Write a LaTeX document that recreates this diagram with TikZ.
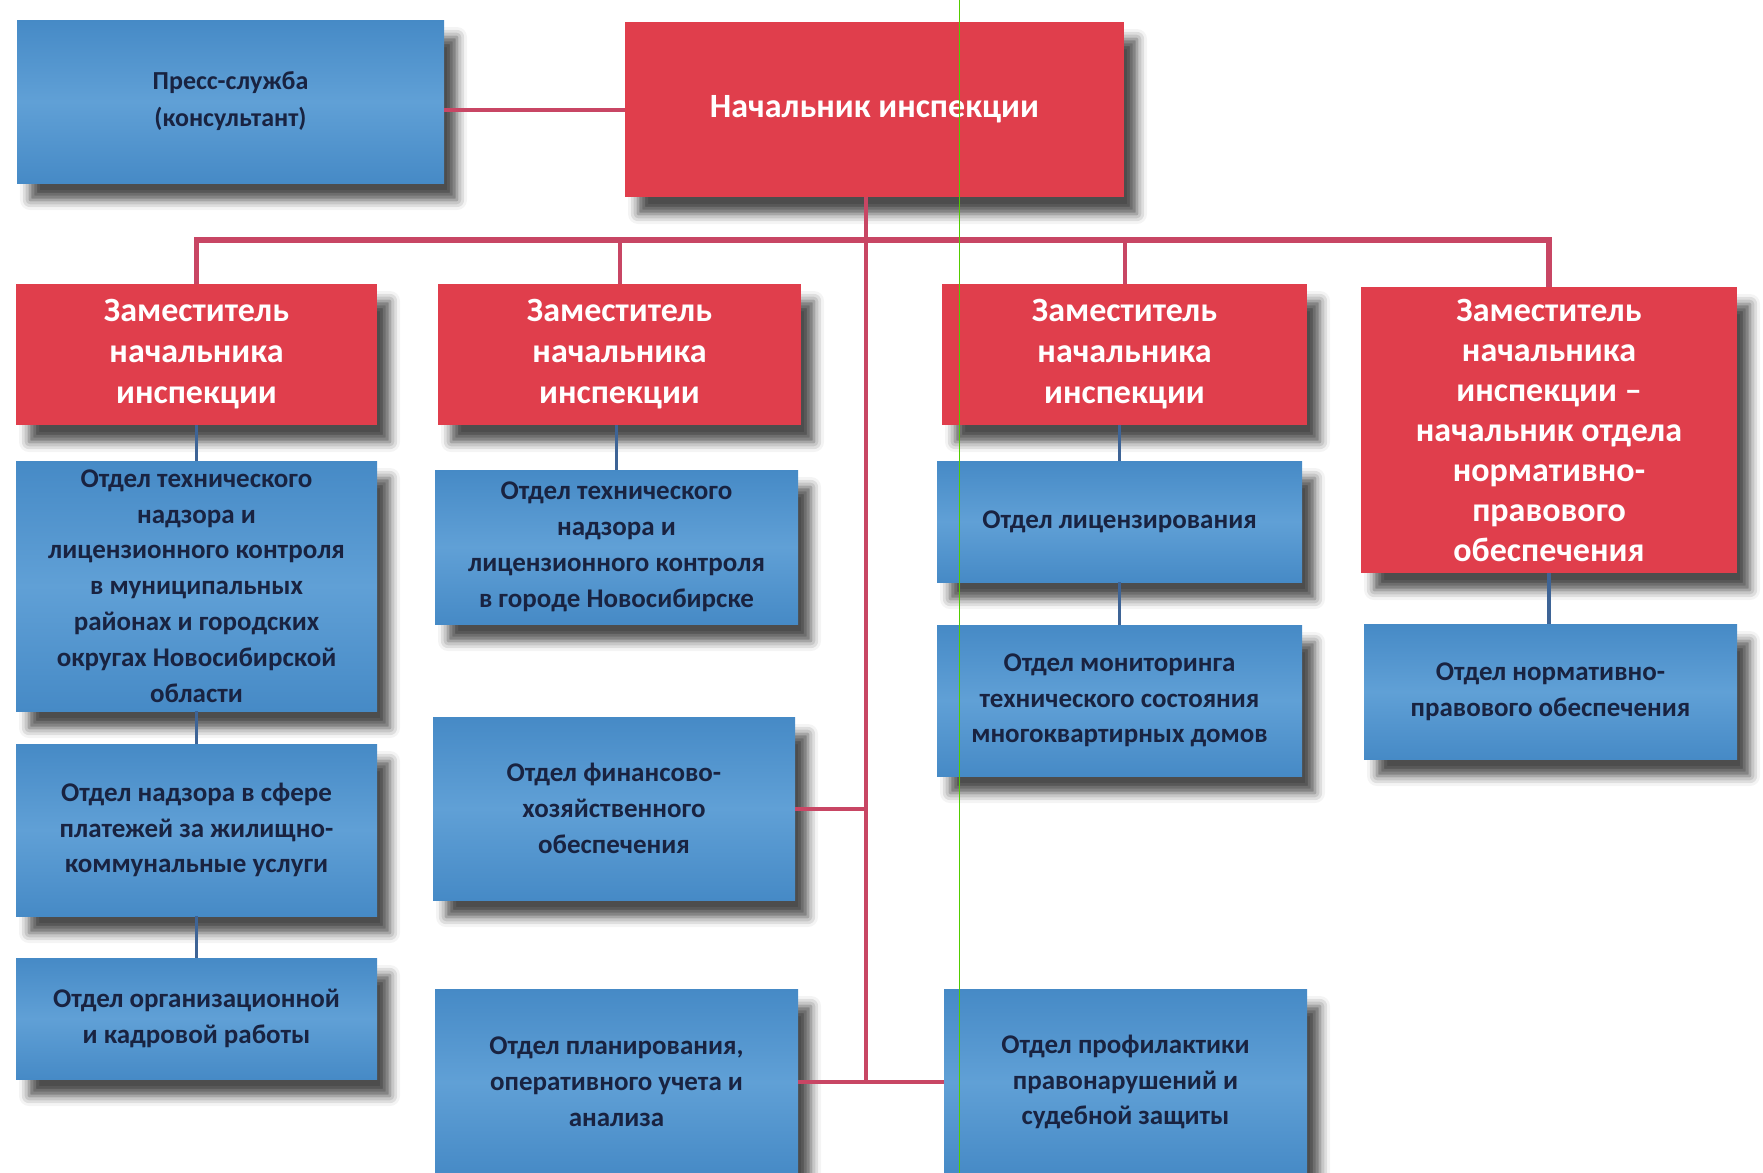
\documentclass[tikz,border=0pt]{standalone}
\usepackage{fontspec}
\setmainfont{Carlito}
\usetikzlibrary{shadows.blur}
\definecolor{chiefred}{RGB}{224,62,76}
\definecolor{deptblue}{RGB}{70,138,198}
\definecolor{deptlight}{RGB}{96,160,214}
\definecolor{linkred}{RGB}{200,70,100}
\definecolor{linkblue}{RGB}{62,100,150}
\definecolor{deptink}{RGB}{25,35,65}
\begin{document}
\begin{tikzpicture}[x=0.5pt, y=-0.5pt,
  box/.style={rectangle, inner sep=0pt, align=center,
    blur shadow={shadow xshift=6.5pt, shadow yshift=-8.5pt, shadow blur radius=5pt, shadow opacity=70}},
  redbox/.style={box, fill=chiefred, text=white, font=\bfseries\fontsize{17}{20.5}\selectfont},
  bluebox/.style={box, top color=deptblue, bottom color=deptblue, middle color=deptlight, text=deptink, font=\bfseries\fontsize{13.5}{17.9}\selectfont},
  redline/.style={linkred, line width=2pt},
  blueline/.style={linkblue, line width=1.6pt}]
\path[use as bounding box, clip] (0,0) rectangle (1763,1173);

\node[bluebox, minimum width=213.5pt, minimum height=81.5pt, font=\bfseries\fontsize{13}{18.5}\selectfont] (press) at (230.5,101.5) {Пресс-служба\\(консультант)};
\node[redbox, minimum width=249.5pt, minimum height=87.5pt] (head) at (874.5,109.5) {Начальник инспекции};

\node[redbox, minimum width=180.5pt, minimum height=70.5pt] (d1) at (196.5,354.5) {Заместитель\\начальника\\инспекции};
\node[redbox, minimum width=181.5pt, minimum height=70.5pt] (d2) at (619.5,354.5) {Заместитель\\начальника\\инспекции};
\node[redbox, minimum width=182.5pt, minimum height=70.5pt] (d3) at (1124.5,354.5) {Заместитель\\начальника\\инспекции};
\node[redbox, minimum width=188pt, minimum height=143pt, font=\bfseries\fontsize{17}{20}\selectfont] (d4) at (1549,430) {Заместитель\\начальника\\инспекции –\\начальник отдела\\нормативно-\\правового\\обеспечения};

\node[bluebox, minimum width=180.5pt, minimum height=125pt] (b1a) at (196.5,586) {Отдел технического\\надзора и\\лицензионного контроля\\в муниципальных\\районах и городских\\округах Новосибирской\\области};
\node[bluebox, minimum width=180.5pt, minimum height=86pt] (b1b) at (196.5,830) {Отдел надзора в сфере\\платежей за жилищно-\\коммунальные услуги};
\node[bluebox, minimum width=180.5pt, minimum height=60.5pt] (b1c) at (196.5,1018.5) {Отдел организационной\\и кадровой работы};

\node[bluebox, minimum width=181.5pt, minimum height=77pt] (b2a) at (616.5,547) {Отдел технического\\надзора и\\лицензионного контроля\\в городе Новосибирске};
\node[bluebox, minimum width=181pt, minimum height=91.5pt] (b2b) at (614,808.5) {Отдел финансово-\\хозяйственного\\обеспечения};
\node[bluebox, minimum width=181.5pt, minimum height=93pt] (b2c) at (616.5,1082) {Отдел планирования,\\оперативного учета и\\анализа};

\node[bluebox, minimum width=182.5pt, minimum height=60.5pt] (b3a) at (1119.5,521.5) {Отдел лицензирования};
\node[bluebox, minimum width=182.5pt, minimum height=75.5pt] (b3b) at (1119.5,700.5) {Отдел мониторинга\\технического состояния\\многоквартирных домов};
\node[bluebox, minimum width=181.5pt, minimum height=93pt] (b3c) at (1125.5,1082) {Отдел профилактики\\правонарушений и\\судебной защиты};

\node[bluebox, minimum width=186.5pt, minimum height=67.5pt] (b4a) at (1550.5,691.5) {Отдел нормативно-\\правового обеспечения};

\coordinate (bus) at (866,240);
\coordinate (trunk) at (866,1082);
\draw[redline] (head.west) -- (head.west -| press.east);
\draw[redline, line width=1.6pt] (head.south -| trunk) -- (trunk);
\draw[redline, line width=2.6pt] (d1.north) |- (bus) -| (d4.north);
\draw[redline] (d2.north) -- (d2.north |- bus);
\draw[redline] (d3.north) -- (d3.north |- bus);
\draw[redline] (b2b.east) -- (b2b.east -| trunk);
\draw[redline] (b2c.east) -- (b3c.west);

\draw[blueline] (d1) -- (b1a) (b1a) -- (b1b) (b1b) -- (b1c);
\draw[blueline] (b2a.north) -- (b2a.north |- d2.south);
\draw[blueline] (b3a.north) -- (b3a.north |- d3.south) (b3a) -- (b3b);
\draw[blueline] (d4.south) -- (d4.south |- b4a.north);

\draw[green!60!yellow!80!black, line width=0.4pt] (959,0) -- (959,1173);
\end{tikzpicture}
\end{document}
